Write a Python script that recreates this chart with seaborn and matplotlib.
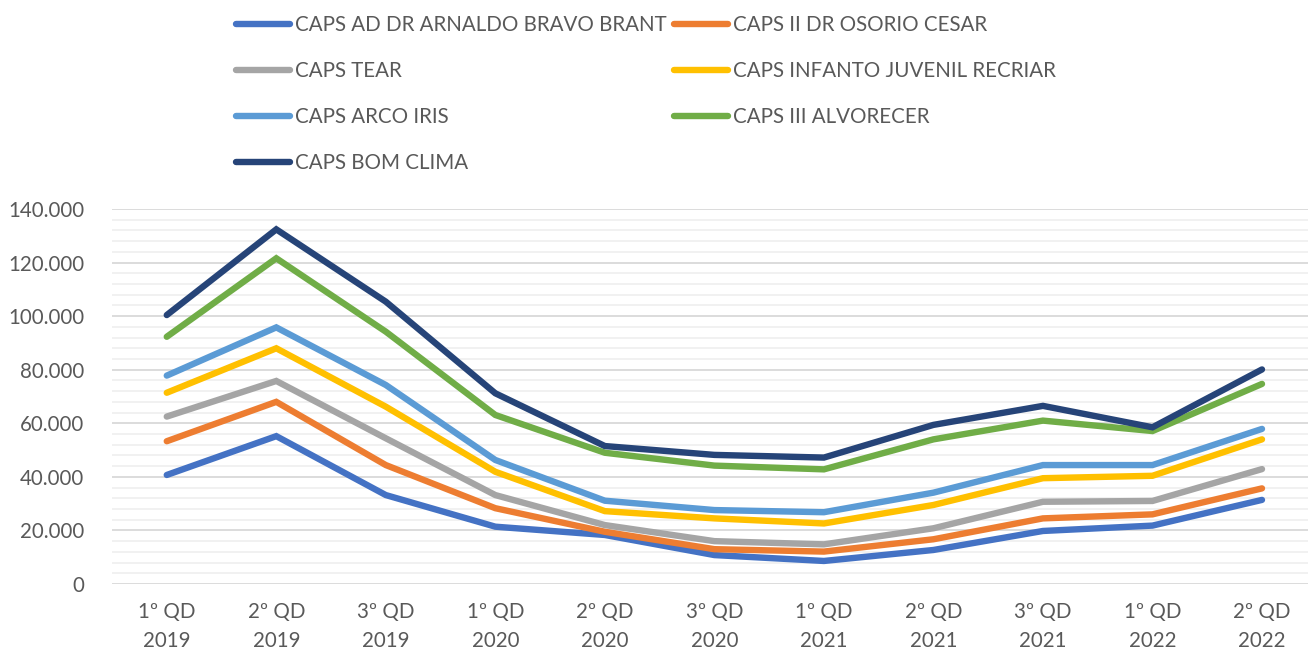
import numpy as np
import pandas as pd
import matplotlib
matplotlib.use("Agg")
import matplotlib.pyplot as plt
from matplotlib.ticker import MultipleLocator, FuncFormatter
from matplotlib.lines import Line2D
import seaborn as sns

categories = ["1º QD\n2019", "2º QD\n2019", "3º QD\n2019", "1º QD\n2020", "2º QD\n2020",
              "3º QD\n2020", "1º QD\n2021", "2º QD\n2021", "3º QD\n2021", "1º QD\n2022",
              "2º QD\n2022"]

series_names = ["CAPS AD DR ARNALDO BRAVO BRANT", "CAPS II DR OSORIO CESAR", "CAPS TEAR",
                "CAPS INFANTO JUVENIL RECRIAR", "CAPS ARCO IRIS", "CAPS III ALVORECER",
                "CAPS BOM CLIMA"]

# plotted (stacked / cumulative) values
caps_ad = [40700, 55200, 33200, 21400, 18300, 10800, 8600, 12700, 19800, 21800, 31400]
caps_ii = [53300, 68000, 44400, 28300, 19500, 13000, 12100, 16700, 24500, 26000, 35700]
caps_tear = [62500, 75800, 54400, 33200, 22000, 16000, 14800, 20800, 30700, 31000, 42900]
caps_infanto = [71400, 88000, 66200, 41900, 27200, 24500, 22600, 29500, 39500, 40400, 54000]
caps_arco = [77800, 95800, 74300, 46300, 31100, 27600, 26800, 34100, 44400, 44400, 57900]
caps_iii = [92300, 121600, 94200, 63100, 49000, 44200, 42800, 54000, 61000, 57100, 74700]
caps_bom = [100400, 132400, 105400, 71200, 51500, 48200, 47200, 59400, 66500, 58500, 80100]

colors = ["#4472C4", "#ED7D31", "#A5A5A5", "#FFC000", "#5B9BD5", "#70AD47", "#264478"]

all_vals = [caps_ad, caps_ii, caps_tear, caps_infanto, caps_arco, caps_iii, caps_bom]
frames = []
for name, vals in zip(series_names, all_vals):
    frames.append(pd.DataFrame({"x": np.arange(len(categories)), "y": vals, "serie": name}))
df = pd.concat(frames, ignore_index=True)

sns.set_style("white")
plt.rcParams["font.family"] = ["Lato", "DejaVu Sans"]

FS = 14.8

fig = plt.figure(figsize=(13.08, 6.55), dpi=100)
ax = fig.add_axes([112 / 1308, 1 - 584 / 655, (1308 - 112) / 1308, (584 - 209) / 655])

sns.lineplot(data=df, x="x", y="y", hue="serie", hue_order=series_names,
             palette=colors, linewidth=4.6, ax=ax, legend=False,
             solid_capstyle="round", solid_joinstyle="miter", sort=False)

ax.set_xlim(-0.5, 10.42)
ax.set_ylim(0, 140000)
ax.yaxis.set_major_locator(MultipleLocator(20000))
ax.yaxis.set_minor_locator(MultipleLocator(4000))
ax.grid(which="major", axis="y", color="#D9D9D9", linewidth=1.3, zorder=0)
ax.grid(which="minor", axis="y", color="#F0F0F0", linewidth=1.3, zorder=0)
ax.set_axisbelow(True)
for s in ax.spines.values():
    s.set_visible(False)

ax.set_xticks(np.arange(len(categories)))
ax.set_xticklabels(categories, linespacing=1.55)

def fmt(v, pos):
    if v == 0:
        return "0"
    return f"{int(v):,}".replace(",", ".")

ax.yaxis.set_major_formatter(FuncFormatter(fmt))
ax.tick_params(axis="both", which="both", length=0, labelsize=FS, colors="#595959")
ax.tick_params(axis="y", pad=20)
ax.tick_params(axis="x", pad=13)
ax.set_xlabel("")
ax.set_ylabel("")

handles = [Line2D([], [], color=c, linewidth=4.6, solid_capstyle="round") for c in colors]

col1 = [0, 2, 4, 6]
col2 = [1, 3, 5]
leg_kw = dict(frameon=False, fontsize=FS, handlelength=2.65, handletextpad=0.22,
              labelspacing=1.27, labelcolor="#595959", borderaxespad=0, borderpad=0)
leg1 = fig.legend([handles[i] for i in col1], [series_names[i] for i in col1],
                  loc="upper left", bbox_to_anchor=(236 / 1308, 1 - 15 / 655), **leg_kw)
leg2 = fig.legend([handles[i] for i in col2], [series_names[i] for i in col2],
                  loc="upper left", bbox_to_anchor=(674 / 1308, 1 - 15 / 655), **leg_kw)

fig.savefig("out.png", dpi=100)
